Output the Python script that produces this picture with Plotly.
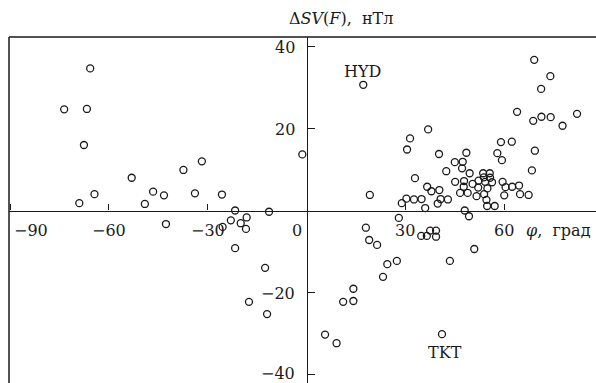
import plotly.graph_objects as go

# latitude phi (deg) and Delta SV(F) (nT)
phi = [-65.7, -73.6, -66.7, -67.6, -53.1, -37.4, -31.8, -64.4, -69.0, -46.6,
       -43.3, -49.1, -33.9, -25.7, -42.7, -21.7, -11.4, -23.0, -18.2, -20.0,
       -18.4, -25.5, -21.7, -12.6, -17.5, -12.0, -1.3,
       17.2, 69.1, 74.0, 71.2, 63.9, 82.1, 68.8, 71.3, 74.1, 77.7,
       36.9, 31.4, 30.5, 59.0, 62.3, 69.3, 57.9, 59.3, 40.2, 48.5,
       45.0, 47.4, 47.2, 49.5, 42.4, 68.4, 32.9, 19.2,
       45.1, 47.8, 47.7, 50.4, 52.2, 53.6, 55.6, 53.8, 55.7, 56.3, 54.2,
       46.6, 48.9, 52.1, 54.9, 51.6, 53.9, 54.6, 54.8, 57.1,
       36.6, 37.9, 40.3, 40.7, 39.8, 42.9, 30.3, 32.6, 34.9, 28.9, 36.0,
       48.0, 49.3, 59.5, 60.4, 62.4, 64.5, 60.0, 64.8, 67.4, 28.0,
       18.0, 19.0, 21.4, 27.4, 24.5, 23.2, 14.2, 11.1, 14.2, 5.6, 9.1,
       41.1, 34.8, 36.5, 37.5, 39.3, 39.3, 43.5, 50.9]
dsv = [34.7, 24.7, 24.8, 16.0, 8.0, 9.9, 12.0, 4.0, 1.8, 4.6,
       3.7, 1.6, 4.2, 3.9, -3.3, 0.0, -0.3, -2.4, -1.7, -3.1,
       -4.5, -4.0, -9.2, -14.0, -22.3, -25.3, 13.7,
       30.7, 36.8, 32.8, 29.7, 24.1, 23.6, 21.9, 22.9, 22.8, 20.7,
       19.8, 17.6, 14.9, 16.7, 16.8, 14.6, 14.0, 12.3, 13.8, 14.1,
       11.8, 11.9, 10.3, 9.1, 9.6, 9.8, 7.9, 3.8,
       7.0, 7.2, 5.8, 6.5, 7.3, 9.1, 9.1, 8.1, 8.0, 6.9, 7.0,
       4.3, 4.3, 5.6, 5.4, 3.5, 4.0, 2.6, 1.1, 1.1,
       5.8, 4.7, 5.0, 2.8, 1.7, 2.7, 2.9, 2.7, 2.8, 1.8, 0.6,
       0.0, -1.4, 7.0, 5.7, 5.8, 6.1, 3.7, 4.0, 3.8, -1.8,
       -4.2, -7.2, -8.4, -12.3, -13.1, -16.2, -19.1, -22.3, -22.1, -30.3, -32.4,
       -30.2, -6.2, -6.2, -4.9, -4.9, -6.4, -12.3, -9.4]

x_ticks = [-90, -60, -30, 0, 30, 60]
x_tick_labels = ["\u221290", "\u221260", "\u221230", "0", "30", "60"]
y_ticks = [40, 20, -20, -40]
y_tick_labels = ["40", "20", "\u221220", "\u221240"]

FONT = "DejaVu Serif"
INK = "#1a1a1a"
XR = [-90.35, 87.86]
YR = [-42.12, 42.37]

fig = go.Figure()
fig.add_trace(go.Scatter(
    x=phi, y=dsv, mode="markers",
    marker=dict(symbol="circle-open", size=7, color=INK, line=dict(width=1.3)),
    showlegend=False, hoverinfo="x+y"))

ypos = (0 - YR[0]) / (YR[1] - YR[0])
xpos = (0 - XR[0]) / (XR[1] - XR[0])

fig.update_xaxes(range=XR, showgrid=False, zeroline=False, showline=True,
                 linecolor=INK, linewidth=1.3, anchor="free", position=ypos,
                 ticks="inside", ticklen=6, tickwidth=1.3, tickcolor=INK,
                 tickvals=[-90, -60, -30, 30, 60], showticklabels=False)
fig.update_yaxes(range=YR, showgrid=False, zeroline=False, showline=True,
                 linecolor=INK, linewidth=1.3, anchor="free", position=xpos,
                 ticks="inside", ticklen=7, tickwidth=1.3, tickcolor=INK,
                 tickvals=y_ticks, showticklabels=False)

ann = []
for v, t in zip(x_ticks, x_tick_labels):
    if v == -90:
        ann.append(dict(x=v, y=0, text=t, xanchor="left", xshift=2, yshift=-20))
    elif v == 0:
        ann.append(dict(x=v, y=0, text=t, xanchor="center", xshift=-10, yshift=-20))
    else:
        ann.append(dict(x=v, y=0, text=t, xanchor="center", yshift=-20))
for v, t in zip(y_ticks, y_tick_labels):
    ann.append(dict(x=0, y=v, text=t, xanchor="right", xshift=-10,
                    yshift=(1 if v == -40 else -1)))
ann.append(dict(x=66.0, y=0, text="<i>\u03c6</i>,  \u0433\u0440\u0430\u0434",
                xanchor="left", yshift=-20))
ann.append(dict(x=10.5, y=1, yref="paper", text="\u0394<i>SV</i>(<i>F</i>),  \u043d\u0422\u043b",
                xanchor="center", yanchor="middle", yshift=19))
ann.append(dict(x=17.1, y=34.0, text="HYD", xanchor="center", yanchor="middle"))
ann.append(dict(x=42.0, y=-34.7, text="TKT", xanchor="center", yanchor="middle"))
for a in ann:
    a.setdefault("font", dict(family=FONT, size=16, color=INK))
    a["showarrow"] = False

fig.update_layout(
    width=596, height=383,
    margin=dict(l=9, r=0, t=37, b=0, pad=0),
    paper_bgcolor="white", plot_bgcolor="white",
    annotations=ann,
    shapes=[
        dict(type="line", xref="paper", yref="paper", x0=0, x1=0, y0=0, y1=1,
             line=dict(color=INK, width=1.5)),
        dict(type="line", xref="paper", yref="paper", x0=0, x1=1, y0=1, y1=1,
             line=dict(color=INK, width=1.5)),
    ],
)

fig.write_html("out.html", config={"displayModeBar": False},
               post_script="document.body.style.margin='0';document.body.style.overflow='hidden';")
